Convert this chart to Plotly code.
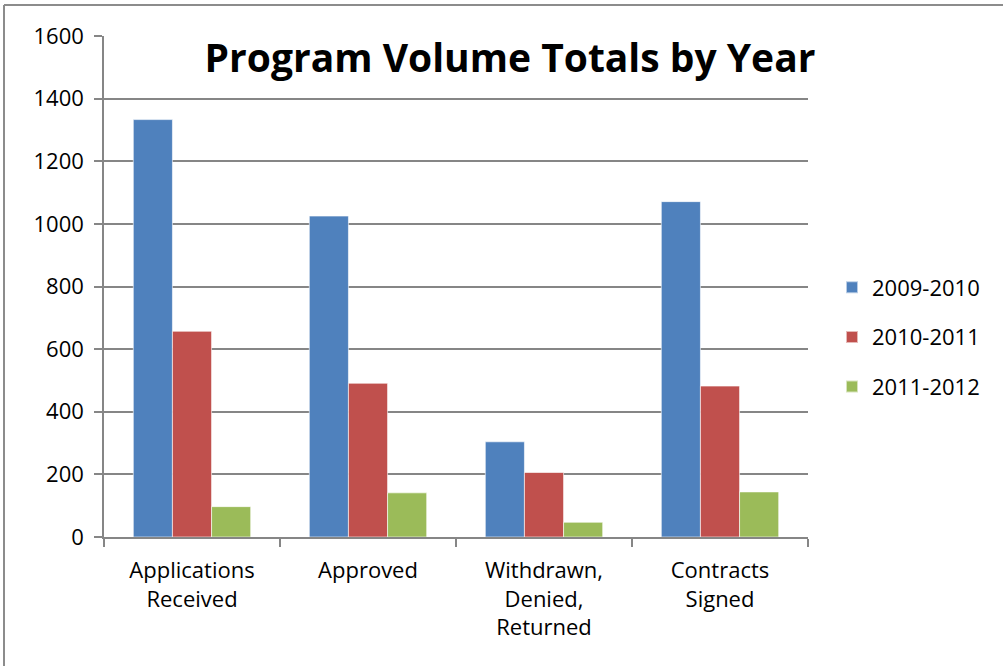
import plotly.graph_objects as go

categories = ["Applications<br>Received", "Approved", "Withdrawn,<br>Denied,<br>Returned", "Contracts<br>Signed"]
series_names = ["2009-2010", "2010-2011", "2011-2012"]
values_2009_2010 = [1333, 1025, 304, 1071]
values_2010_2011 = [657, 491, 206, 482]
values_2011_2012 = [97, 141, 47, 144]
colors = ["#4F81BD", "#C0504D", "#9BBB59"]
y_ticks = [0, 200, 400, 600, 800, 1000, 1200, 1400, 1600]

FONT = "Open Sans, Calibri, sans-serif"
W, H = 1003, 666
L, R, T, B = 104, 195, 36, 129

fig = go.Figure()
for i, (name, vals) in enumerate(zip(series_names, [values_2009_2010, values_2010_2011, values_2011_2012])):
    fig.add_trace(go.Bar(
        x=categories, y=vals, name=name, legendgroup=name,
        marker=dict(color=colors[i], line=dict(color="rgba(255,255,255,0.6)", width=1)),
    ))

pw = W - L - R
ph = H - T - B
fig.update_layout(
    width=W, height=H,
    margin=dict(l=L, r=R, t=T, b=B, autoexpand=False),
    paper_bgcolor="white", plot_bgcolor="white",
    barmode="group", bargap=0.333, bargroupgap=0,
    font=dict(family=FONT, size=21, color="black"),
    title=dict(text="<b>Program Volume Totals by Year</b>", font=dict(family=FONT, size=39, color="black"),
               x=510 / W, xanchor="center", y=1 - 58 / H, yanchor="middle"),
    legend=dict(x=(832 - L) / pw, xanchor="left", y=(537 - 337) / ph, yanchor="middle",
                traceorder="grouped", tracegroupgap=18, font=dict(size=22),
                itemsizing="constant"),
    showlegend=True,
    xaxis=dict(showline=True, linecolor="#868686", linewidth=1.5, ticks="outside",
               tickson="boundaries", ticklen=8, tickcolor="#868686", tickwidth=1.5,
               tickfont=dict(size=22), showgrid=False, ticklabelstandoff=13),
    yaxis=dict(range=[0, 1600], tickvals=y_ticks, showline=True, linecolor="#868686", linewidth=1.5,
               ticks="outside", ticklen=8, tickcolor="#868686", tickwidth=1.5,
               showgrid=True, gridcolor="#868686", gridwidth=1.5, zeroline=False,
               tickfont=dict(size=22), ticklabelstandoff=6),
    shapes=[
        dict(type="line", xref="paper", yref="paper", x0=(4 - L) / pw, x1=(W - L) / pw + 0.01,
             y0=1 + (T - 5) / ph, y1=1 + (T - 5) / ph, line=dict(color="#8c8c8c", width=2)),
        dict(type="line", xref="paper", yref="paper", x0=(4 - L) / pw, x1=(4 - L) / pw,
             y0=1 + (T - 5) / ph, y1=-(B + 5) / ph, line=dict(color="#8c8c8c", width=2)),
    ],
)

fig.write_html("out.html", config={"displayModeBar": False},
               post_script="document.body.style.margin='0';document.body.style.padding='0';")
